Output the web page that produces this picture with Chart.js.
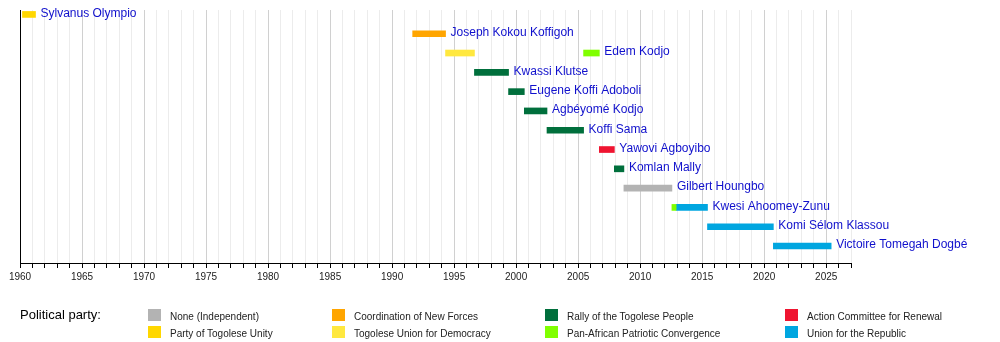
<!DOCTYPE html>
<html>
<head>
<meta charset="utf-8">
<script src="https://cdn.jsdelivr.net/npm/chart.js@4"></script>
<style>
  body { margin: 0; background: #fff; font-family: "Liberation Sans", Arial, sans-serif; }
  #wrap { position: relative; width: 1000px; height: 342px; }
  #chart { position: absolute; left: 0; top: 0; }
  .legend-title { position: absolute; left: 20px; top: 307px; font-size: 13px; color: #000; }
  .item { position: absolute; font-size: 10px; color: #222; line-height: 13px; white-space: nowrap; }
  .item span { position: absolute; left: 0; top: 0; width: 13px; height: 12px; }
  .item div { position: absolute; left: 22px; top: 1px; }
</style>
</head>
<body>
<div id="wrap">
  <canvas id="chart" width="1000" height="342"></canvas>
  <div class="legend-title">Political party:</div>
  <div id="legend"></div>
</div>
<script>
// people, one per row (top to bottom)
const people = ['Sylvanus Olympio', 'Joseph Kokou Koffigoh', 'Edem Kodjo', 'Kwassi Klutse',
    'Eugene Koffi Adoboli', 'Agbéyomé Kodjo', 'Koffi Sama', 'Yawovi Agboyibo', 'Komlan Mally',
    'Gilbert Houngbo', 'Kwesi Ahoomey-Zunu', 'Komi Sélom Klassou', 'Victoire Tomegah Dogbé'];

const parties = ['None (Independent)', 'Party of Togolese Unity', 'Coordination of New Forces',
    'Togolese Union for Democracy', 'Rally of the Togolese People', 'Pan-African Patriotic Convergence',
    'Action Committee for Renewal', 'Union for the Republic'];
const partyColors = ['#b3b3b3', '#ffd700', '#ffa500', '#ffe83f', '#006f3c', '#80ff00', '#ef1430', '#00a6e0'];

// terms in office (decimal years)
const termRow   = [0, 1, 2, 2, 3, 4, 5, 6, 7, 8, 9, 10, 10, 11, 12];
const termParty = [1, 2, 3, 5, 4, 4, 4, 4, 6, 4, 0, 5, 7, 7, 7];
const termStart = [1960.2, 1991.66, 1994.31, 2005.44, 1996.64, 1999.39, 2000.66, 2002.49, 2006.71, 2007.92, 2008.69, 2012.56, 2012.9, 2015.43, 2020.74];
const termEnd   = [1961.25, 1994.31, 1996.64, 2006.71, 1999.39, 2000.66, 2002.49, 2005.44, 2007.92, 2008.69, 2012.56, 2012.9, 2015.43, 2020.74, 2025.4];

const yearMin = 1960;
const yearMax = 2027;

const datasets = parties.map((p, k) => ({
    label: p,
    backgroundColor: partyColors[k],
    data: termRow.map((r, i) => termParty[i] === k ? { x: [termStart[i], termEnd[i]], y: r } : null)
        .filter(d => d !== null),
    barThickness: 6,
    borderWidth: 0,
    borderSkipped: false,
    grouped: false
}));

const nameLabels = {
    id: 'nameLabels',
    afterDatasetsDraw(chart) {
        const ctx = chart.ctx;
        const xs = chart.scales.x, ys = chart.scales.y;
        ctx.save();
        ctx.font = '12px "Liberation Sans", Arial, sans-serif';
        ctx.fillStyle = '#1010cc';
        ctx.textBaseline = 'middle';
        people.forEach((name, r) => {
            let end = -Infinity;
            termRow.forEach((row, i) => { if (row === r) end = Math.max(end, termEnd[i]); });
            ctx.fillText(name, xs.getPixelForValue(end) + 5, ys.getPixelForValue(r) - 1);
        });
        ctx.restore();
    }
};

Chart.defaults.font.family = '"Liberation Sans", Arial, sans-serif';

new Chart(document.getElementById('chart'), {
    type: 'bar',
    data: { datasets: datasets },
    options: {
        responsive: false,
        animation: false,
        indexAxis: 'y',
        layout: { padding: { left: 20, top: 10, right: 149, bottom: 56 } },
        plugins: { legend: { display: false }, tooltip: { enabled: false } },
        scales: {
            x: {
                type: 'linear',
                min: yearMin,
                max: yearMax,
                ticks: {
                    stepSize: 1,
                    autoSkip: false,
                    maxRotation: 0,
                    color: '#222',
                    font: { size: 10 },
                    callback: v => v % 5 === 0 ? String(v) : ''
                },
                grid: {
                    color: c => c.tick.value === yearMin ? '#000' : (c.tick.value % 5 === 0 ? '#d0d0d0' : '#ececec'),
                    tickColor: '#000',
                    tickLength: 5
                },
                border: { color: '#000' }
            },
            y: {
                type: 'linear',
                reverse: true,
                offset: false,
                min: -0.23,
                max: 12.88,
                display: false
            }
        }
    },
    plugins: [nameLabels]
});

// legend, 4 columns by 2 rows
const legendCols = [148, 332, 545, 785];
const legendRows = [309, 326];
const legend = document.getElementById('legend');
parties.forEach((p, k) => {
    const col = Math.floor(k / 2), row = k % 2;
    const item = document.createElement('div');
    item.className = 'item';
    item.style.left = legendCols[col] + 'px';
    item.style.top = legendRows[row] + 'px';
    item.innerHTML = '<span style="background:' + partyColors[k] + '"></span><div>' + p + '</div>';
    legend.appendChild(item);
});
</script>
</body>
</html>
